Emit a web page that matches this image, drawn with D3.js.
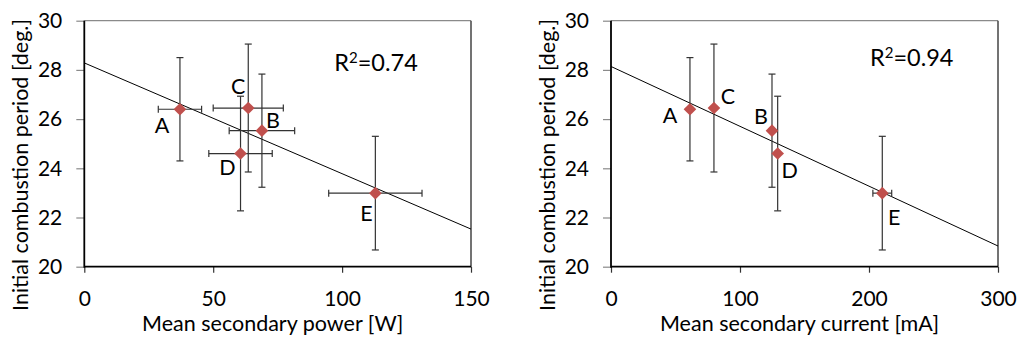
<!DOCTYPE html>
<html>
<head>
<meta charset="utf-8">
<script src="https://cdn.jsdelivr.net/npm/d3@7"></script>
<style>
  body { margin: 0; background: #fff; }
  svg text { font-family: Lato, "Open Sans", sans-serif; fill: #000; }
</style>
</head>
<body>
<script>
// ! Data
const pointNames = ['A', 'B', 'C', 'D', 'E'];
const period = [26.4, 25.53, 26.45, 24.6, 22.99];
const periodErr = [2.1, 2.3, 2.6, 2.33, 2.31];
const power = [37.1, 68.9, 63.6, 60.6, 112.9];
const powerErr = [8.4, 12.7, 13.6, 12.3, 18.1];
const current = [61.2, 124.8, 79.8, 129.2, 210.3];
const currentErr = [0, 0, 0, 0, 7.3];
const yTicks = [20, 22, 24, 26, 28, 30];
const powerTicks = [0, 50, 100, 150];
const currentTicks = [0, 100, 200, 300];

const width = 1019;
const height = 340;
const fontSize = 21;
const titleSize = 21.5;

const svg = d3.select('body')
  .append('svg')
  .attr('width', width)
  .attr('height', height);

// TODO - least squares fit for the trend line
function linearFit(xs, ys) {
  const mx = d3.mean(xs);
  const my = d3.mean(ys);
  let sxy = 0; let sxx = 0; let syy = 0;
  xs.forEach((x, i) => {
    sxy += (x - mx) * (ys[i] - my);
    sxx += (x - mx) ** 2;
    syy += (ys[i] - my) ** 2;
  });
  const slope = sxy / sxx;
  return { slope, intercept: my - slope * mx, r2: (sxy * sxy) / (sxx * syy) };
}

function drawPanel(cfg) {
  const x = d3.scaleLinear().domain(cfg.xDomain).range([cfg.left, cfg.right]);
  const y = d3.scaleLinear().domain([20, 30]).range([266.7, 20.7]);
  const g = svg.append('g');

  // * frame: grey top / right
  g.append('line')
    .attr('x1', cfg.left).attr('x2', cfg.right)
    .attr('y1', y(30)).attr('y2', y(30))
    .attr('stroke', '#8a8a8a').attr('stroke-width', 1.3);
  g.append('line')
    .attr('x1', cfg.right).attr('x2', cfg.right)
    .attr('y1', y(30)).attr('y2', y(20))
    .attr('stroke', '#444').attr('stroke-width', 1.5);

  // * axes
  const yAxis = g.append('g')
    .attr('transform', `translate(${cfg.left},0)`)
    .call(d3.axisLeft(y).tickValues(yTicks).tickSize(8).tickPadding(14));
  yAxis.select('.domain').remove();
  yAxis.selectAll('line').attr('stroke', '#8a8a8a').attr('stroke-width', 1.2);
  yAxis.selectAll('text').style('font-size', `${fontSize}px`).attr('fill', '#000');

  const xAxis = g.append('g')
    .attr('transform', `translate(0,${y(20)})`)
    .call(d3.axisBottom(x).tickValues(cfg.xTicks).tickSize(6).tickPadding(18));
  xAxis.select('.domain').remove();
  xAxis.selectAll('line').attr('stroke', '#333').attr('stroke-width', 1.2);
  xAxis.selectAll('text').style('font-size', `${fontSize}px`).attr('fill', '#000');

  g.append('line')
    .attr('x1', cfg.left).attr('x2', cfg.left)
    .attr('y1', y(30)).attr('y2', y(20) + 1)
    .attr('stroke', '#000').attr('stroke-width', 1.8);
  g.append('line')
    .attr('x1', cfg.left).attr('x2', cfg.right)
    .attr('y1', y(20)).attr('y2', y(20))
    .attr('stroke', '#000').attr('stroke-width', 1.8);

  // * trend line
  const fit = linearFit(cfg.xs, period);
  g.append('line')
    .attr('x1', x(cfg.xDomain[0])).attr('y1', y(fit.intercept + fit.slope * cfg.xDomain[0]))
    .attr('x2', x(cfg.xDomain[1])).attr('y2', y(fit.intercept + fit.slope * cfg.xDomain[1]))
    .attr('stroke', '#000').attr('stroke-width', 1);

  // * error bars
  const bars = g.append('g').attr('stroke', '#333').attr('stroke-width', 1.2);
  const cap = 3.5;
  cfg.xs.forEach((xv, i) => {
    const px = x(xv);
    const py = y(period[i]);
    const yTop = y(period[i] + periodErr[i]);
    const yBot = y(period[i] - periodErr[i]);
    bars.append('line').attr('x1', px).attr('x2', px).attr('y1', yTop).attr('y2', yBot);
    bars.append('line').attr('x1', px - cap).attr('x2', px + cap).attr('y1', yTop).attr('y2', yTop);
    bars.append('line').attr('x1', px - cap).attr('x2', px + cap).attr('y1', yBot).attr('y2', yBot);
    if (cfg.xErr[i] > 0) {
      const xl = x(xv - cfg.xErr[i]);
      const xr = x(xv + cfg.xErr[i]);
      bars.append('line').attr('x1', xl).attr('x2', xr).attr('y1', py).attr('y2', py);
      bars.append('line').attr('x1', xl).attr('x2', xl).attr('y1', py - cap).attr('y2', py + cap);
      bars.append('line').attr('x1', xr).attr('x2', xr).attr('y1', py - cap).attr('y2', py + cap);
    }
  });

  // * diamonds
  g.selectAll('path.pt')
    .data(cfg.xs)
    .enter()
    .append('path')
    .attr('class', 'pt')
    .attr('d', d3.symbol().type(d3.symbolSquare).size(80))
    .attr('transform', (d, i) => `translate(${x(d)},${y(period[i])}) rotate(45)`)
    .attr('fill', '#C0504D');

  // * point labels
  g.selectAll('text.lbl')
    .data(pointNames)
    .enter()
    .append('text')
    .attr('class', 'lbl')
    .attr('x', (d, i) => x(cfg.xs[i]) + cfg.offsets[i][0])
    .attr('y', (d, i) => y(period[i]) + cfg.offsets[i][1])
    .attr('text-anchor', 'middle')
    .style('font-size', `${titleSize}px`)
    .text((d) => d);

  // * R squared
  const r2 = g.append('text')
    .attr('x', cfg.left + cfg.r2Pos[0])
    .attr('y', y(30) + cfg.r2Pos[1])
    .style('font-size', '23.5px');
  r2.append('tspan').text('R');
  r2.append('tspan').text('2').attr('dy', -8).style('font-size', '15px');
  r2.append('tspan').text(`=${fit.r2.toFixed(2)}`).attr('dy', 8);

  // * titles
  g.append('text')
    .attr('x', (cfg.left + cfg.right) / 2 - 5)
    .attr('y', 331)
    .attr('text-anchor', 'middle')
    .style('font-size', `${titleSize}px`)
    .text(cfg.xTitle);
  g.append('text')
    .attr('transform', `translate(${cfg.left - 56},165) rotate(-90)`)
    .attr('text-anchor', 'middle')
    .style('font-size', `${titleSize}px`)
    .text('Initial combustion period [deg.]');
}

drawPanel({
  left: 84.3,
  right: 471,
  xDomain: [0, 150],
  xTicks: powerTicks,
  xs: power,
  xErr: powerErr,
  xTitle: 'Mean secondary power [W]',
  offsets: [[-18, 24], [11, -3], [-10, -14], [-13, 21], [-9, 28]],
  r2Pos: [250, 50],
});

drawPanel({
  left: 611,
  right: 998,
  xDomain: [0, 300],
  xTicks: currentTicks,
  xs: current,
  xErr: currentErr,
  xTitle: 'Mean secondary current [mA]',
  offsets: [[-20, 14], [-11, -7], [14, -4], [12, 24], [12, 32]],
  r2Pos: [259, 45.5],
});
</script>
</body>
</html>
